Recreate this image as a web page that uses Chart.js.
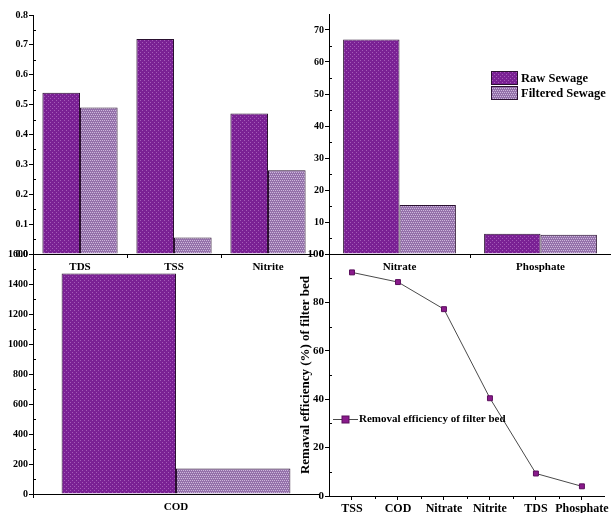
<!DOCTYPE html>
<html><head><meta charset="utf-8">
<script src="https://cdn.jsdelivr.net/npm/chart.js@4.4.0/dist/chart.umd.min.js"></script>
<style>
html,body{margin:0;padding:0;background:#fff;}
#wrap{position:relative;width:611px;height:513px;overflow:hidden;background:#fff;}
.p{position:absolute;}
</style></head><body>
<div id="wrap">
<div class="p" id="d3" style="left:0;top:240px;width:320px;height:273px"><canvas id="c3"></canvas></div>
<div class="p" id="d4" style="left:290px;top:240px;width:321px;height:273px"><canvas id="c4"></canvas></div>
<div class="p" id="d1" style="left:0;top:0;width:315px;height:272px"><canvas id="c1"></canvas></div>
<div class="p" id="d2" style="left:300px;top:0;width:311px;height:272px"><canvas id="c2"></canvas></div>
</div>
<script>
// ---- data ----
const seriesLabels = ['Raw Sewage', 'Filtered Sewage'];
const topLeftCategories = ['TDS', 'TSS', 'Nitrite'];
const topLeftRaw = [0.54, 0.72, 0.47];
const topLeftFiltered = [0.49, 0.055, 0.28];
const topRightCategories = ['Nitrate', 'Phosphate'];
const topRightRaw = [67, 6.3];
const topRightFiltered = [15.3, 6.05];
const bottomLeftCategories = ['COD'];
const bottomLeftRaw = [1470];
const bottomLeftFiltered = [170];
const efficiencyCategories = ['TSS', 'COD', 'Nitrate', 'Nitrite', 'TDS', 'Phosphate'];
const efficiencyValues = [92.4, 88.4, 77.2, 40.4, 9.3, 4.0];
const efficiencyLabel = 'Removal efficiency of filter bed';
const efficiencyAxisTitle = 'Remaval efficiency (%) of filter bed';

const F = '"Liberation Serif", "Times New Roman", serif';

function makePattern(base, light, cells) {
  const c = document.createElement('canvas');
  c.width = 4; c.height = 4;
  const x = c.getContext('2d');
  x.fillStyle = base; x.fillRect(0, 0, 4, 4);
  x.fillStyle = light;
  cells.forEach(p => x.fillRect(p[0], p[1], 1, 1));
  return x.createPattern(c, 'repeat');
}
const rawFill = makePattern('#7a2194', '#a45bb8', [[0,0],[2,2]]);
const filtFill = makePattern('#9471aa', '#cdb7dc', [[0,0],[2,0],[1,2],[3,2]]);

function barDatasets(raw, filt) {
  return [
    {label: seriesLabels[0], data: raw, backgroundColor: rawFill, borderColor: '#2a1030', borderWidth: 1, categoryPercentage: 0.8, barPercentage: 1.0},
    {label: seriesLabels[1], data: filt, backgroundColor: filtFill, borderColor: '#2a1030', borderWidth: 1, categoryPercentage: 0.8, barPercentage: 1.0}
  ];
}

const minorTicks = {
  id: 'minorTicks',
  afterDraw(chart) {
    const ctx = chart.ctx;
    ctx.save();
    ctx.strokeStyle = '#000';
    ctx.lineWidth = 1;
    Object.values(chart.scales).forEach(s => {
      if (s.type !== 'linear') return;
      const t = s.ticks;
      for (let i = 0; i < t.length - 1; i++) {
        const v = (t[i].value + t[i + 1].value) / 2;
        const p = Math.round(s.getPixelForValue(v)) + 0.5;
        ctx.beginPath();
        if (s.isHorizontal()) { ctx.moveTo(p, s.top); ctx.lineTo(p, s.top + 3); }
        else { ctx.moveTo(s.right, p); ctx.lineTo(s.right + 3, p); }
        ctx.stroke();
      }
    });
    ctx.restore();
  }
};

function yAxis(min, max, step, fmt, width, size) {
  return {
    type: 'linear', min: min, max: max,
    ticks: {stepSize: step, includeBounds: false, color: '#000', padding: 1,
      font: {family: F, weight: 'bold', size: size || 10}, callback: fmt},
    grid: {display: true, drawOnChartArea: false, drawTicks: true, tickLength: 4, color: '#000'},
    border: {display: true, color: '#000', width: 1},
    afterFit(s) { s.width = width; }
  };
}
function xCat(height, size) {
  return {
    type: 'category',
    ticks: {color: '#000', padding: 3, font: {family: F, weight: 'bold', size: size || 11}, maxRotation: 0, autoSkip: false},
    grid: {display: true, drawOnChartArea: false, drawTicks: true, tickLength: 4, color: '#000', offset: true},
    border: {display: true, color: '#000', width: 1},
    afterFit(s) { s.height = height; }
  };
}
const common = {
  responsive: true, maintainAspectRatio: false, animation: false,
  plugins: {legend: {display: false}, tooltip: {enabled: false}}
};

// Chart 1 (top-left)
new Chart(document.getElementById('c1'), {
  type: 'bar',
  data: {labels: topLeftCategories, datasets: barDatasets(topLeftRaw, topLeftFiltered)},
  options: Object.assign({}, common, {
    layout: {padding: {top: 15, right: 0, left: 0, bottom: 0}},
    scales: {x: xCat(18, 11), y: yAxis(0, 0.8, 0.1, v => Number(v).toFixed(1), 33, 10)}
  }),
  plugins: [minorTicks]
});

// Chart 2 (top-right) with legend
const barLegend = {
  id: 'barLegend',
  afterDraw(chart) {
    const ctx = chart.ctx;
    ctx.save();
    chart.data.datasets.forEach((ds, i) => {
      const x = 191, y = 71 + i * 15, w = 27, h = 14;
      ctx.fillStyle = ds.backgroundColor;
      ctx.fillRect(x, y, w, h);
      ctx.strokeStyle = '#2a1030'; ctx.lineWidth = 1;
      ctx.strokeRect(x + 0.5, y + 0.5, w - 1, h - 1);
      ctx.fillStyle = '#000';
      ctx.font = 'bold 12.5px ' + F;
      ctx.textBaseline = 'middle'; ctx.textAlign = 'left';
      ctx.fillText(ds.label, x + w + 3, y + h / 2 + 0.5);
    });
    ctx.restore();
  }
};
new Chart(document.getElementById('c2'), {
  type: 'bar',
  data: {labels: topRightCategories, datasets: barDatasets(topRightRaw, topRightFiltered)},
  options: Object.assign({}, common, {
    layout: {padding: {top: 14, right: 0, left: 0, bottom: 0}},
    scales: {x: xCat(18, 11), y: yAxis(0, 75, 10, v => String(v), 29, 10)}
  }),
  plugins: [minorTicks, barLegend]
});

// Chart 3 (bottom-left)
new Chart(document.getElementById('c3'), {
  type: 'bar',
  data: {labels: bottomLeftCategories, datasets: barDatasets(bottomLeftRaw, bottomLeftFiltered)},
  options: Object.assign({}, common, {
    layout: {padding: {top: 14, right: 1, left: 0, bottom: 0}},
    scales: {x: xCat(19, 11), y: yAxis(0, 1600, 200, v => String(v), 33, 10)}
  }),
  plugins: [minorTicks]
});

// Chart 4 (bottom-right) line
const lineLegend = {
  id: 'lineLegend',
  afterDraw(chart) {
    const ds = chart.data.datasets[0];
    const ctx = chart.ctx;
    ctx.save();
    const y = 179.5;
    ctx.strokeStyle = ds.borderColor; ctx.lineWidth = 1;
    ctx.beginPath(); ctx.moveTo(43, y); ctx.lineTo(68, y); ctx.stroke();
    ctx.fillStyle = ds.pointBackgroundColor;
    ctx.fillRect(52, y - 3.5, 7, 7);
    ctx.strokeStyle = ds.pointBorderColor;
    ctx.strokeRect(52, y - 3.5, 7, 7);
    ctx.fillStyle = '#000';
    ctx.font = 'bold 11px ' + F;
    ctx.textBaseline = 'middle'; ctx.textAlign = 'left';
    ctx.fillText(ds.label, 69, y);
    ctx.restore();
  }
};
const y4 = yAxis(0, 100, 20, v => String(v), 39, 11);
y4.title = {display: true, text: efficiencyAxisTitle, color: '#000', font: {family: F, weight: 'bold', size: 13}, padding: {top: 8, bottom: 0}};
new Chart(document.getElementById('c4'), {
  type: 'line',
  data: {datasets: [{
    label: efficiencyLabel,
    data: efficiencyValues.map((v, i) => ({x: i + 1, y: v})),
    borderColor: '#4a4a4a', borderWidth: 1,
    pointStyle: 'rect', pointRadius: 3.5,
    pointBackgroundColor: '#8a1a8c', pointBorderColor: '#5a0e5c', pointBorderWidth: 1,
    tension: 0, fill: false
  }]},
  options: Object.assign({}, common, {
    layout: {padding: {top: 14, right: 0, left: 0, bottom: 0}},
    scales: {
      x: {
        type: 'linear', min: 0.5, max: 6.5,
        afterBuildTicks(s) { s.ticks = efficiencyCategories.map((c, i) => ({value: i + 1})); },
        ticks: {color: '#000', padding: 2, maxRotation: 0, autoSkip: false,
          font: {family: F, weight: 'bold', size: 12},
          callback: v => efficiencyCategories[Math.round(v) - 1] || ''},
        grid: {display: true, drawOnChartArea: false, drawTicks: true, tickLength: 4, color: '#000'},
        border: {display: true, color: '#000', width: 1},
        afterFit(s) { s.height = 17; }
      },
      y: y4
    }
  }),
  plugins: [minorTicks, lineLegend]
});
</script>
</body></html>
